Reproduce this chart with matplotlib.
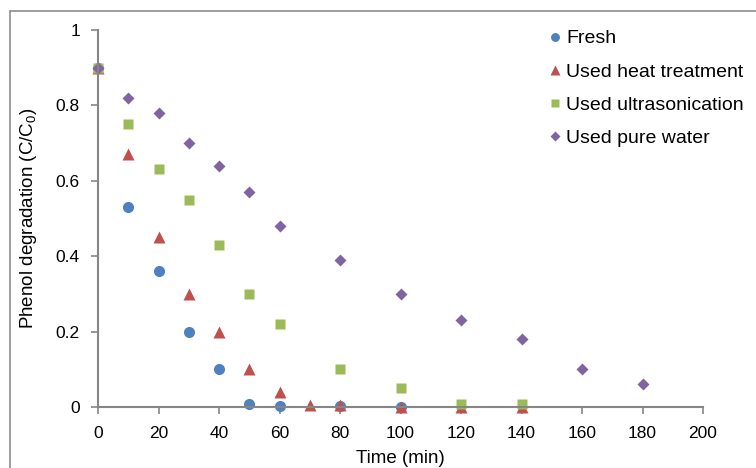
import matplotlib
matplotlib.use("Agg")
import matplotlib.pyplot as plt
from matplotlib.patches import Rectangle

# phenol degradation data, C/C0 vs time (min)
t_fresh = [0, 10, 20, 30, 40, 50, 60, 80, 100]
c_fresh = [0.9, 0.53, 0.36, 0.2, 0.1, 0.008, 0.003, 0.003, 0.0]

t_heat = [0, 10, 20, 30, 40, 50, 60, 70, 80, 100, 120, 140]
c_heat = [0.9, 0.67, 0.45, 0.3, 0.2, 0.1, 0.04, 0.005, 0.005, 0.0, 0.0, 0.0]

t_ultra = [0, 10, 20, 30, 40, 50, 60, 80, 100, 120, 140]
c_ultra = [0.9, 0.75, 0.63, 0.55, 0.43, 0.3, 0.22, 0.1, 0.05, 0.007, 0.007]

t_water = [0, 10, 20, 30, 40, 50, 60, 80, 100, 120, 140, 160, 180]
c_water = [0.9, 0.82, 0.78, 0.7, 0.64, 0.57, 0.48, 0.39, 0.3, 0.23, 0.18, 0.1, 0.06]

xticks = [0, 20, 40, 60, 80, 100, 120, 140, 160, 180, 200]
yticks = [0, 0.2, 0.4, 0.6, 0.8, 1]
ytick_labels = ["0", "0.2", "0.4", "0.6", "0.8", "1"]

plt.rcParams["font.family"] = ["Liberation Sans", "DejaVu Sans"]
plt.rcParams["mathtext.fontset"] = "custom"
plt.rcParams["mathtext.rm"] = "Liberation Sans"

fig = plt.figure(figsize=(7.56, 4.68), dpi=100)
ax = fig.add_axes([98 / 756, 61 / 468, 605 / 756, 377 / 468])

# outer chart frame (runs off the right and bottom edges)
fig.patches.append(Rectangle((10 / 756, -0.1), 1.2, 1 - 11 / 468 + 0.1,
                             transform=fig.transFigure, fill=False,
                             edgecolor="#8c8c8c", lw=1.2, zorder=0))

ax.plot(t_fresh, c_fresh, "o", color="#4F81BD", ms=8, mec="none", label="Fresh", clip_on=False)
ax.plot(t_heat, c_heat, "^", color="#C0504D", ms=8.5, mec="none", label="Used heat treatment", clip_on=False)
ax.plot(t_ultra, c_ultra, "s", color="#9BBB59", ms=7.5, mec="none", label="Used ultrasonication", clip_on=False)
ax.plot(t_water, c_water, "D", color="#8064A2", ms=6, mec="none", label="Used pure water", clip_on=False)

ax.set_xlim(0, 200)
ax.set_ylim(0, 1)
ax.set_xticks(xticks)
ax.set_yticks(yticks)
ax.set_yticklabels(ytick_labels)
for s in ["top", "right"]:
    ax.spines[s].set_visible(False)
for s in ["left", "bottom"]:
    ax.spines[s].set_color("#868686")
    ax.spines[s].set_linewidth(1.5)
ax.tick_params(axis="both", colors="#868686", length=5, width=1.2,
               labelcolor="black", labelsize=12.5, pad=8)
ax.tick_params(axis="x", pad=9)

ax.set_xlabel("Time (min)", fontsize=13.5, labelpad=6)
ax.set_ylabel("Phenol degradation (C/C$_\\mathregular{0}$)", fontsize=13.5, labelpad=12)

leg = ax.legend(loc="upper left", bbox_to_anchor=(541 / 756, 1 - 22 / 468),
                bbox_transform=fig.transFigure, frameon=False, fontsize=14,
                handlelength=0.6, handletextpad=0.3, labelspacing=0.8,
                markerscale=0.8, borderaxespad=0)

fig.savefig("out.png", dpi=100)
